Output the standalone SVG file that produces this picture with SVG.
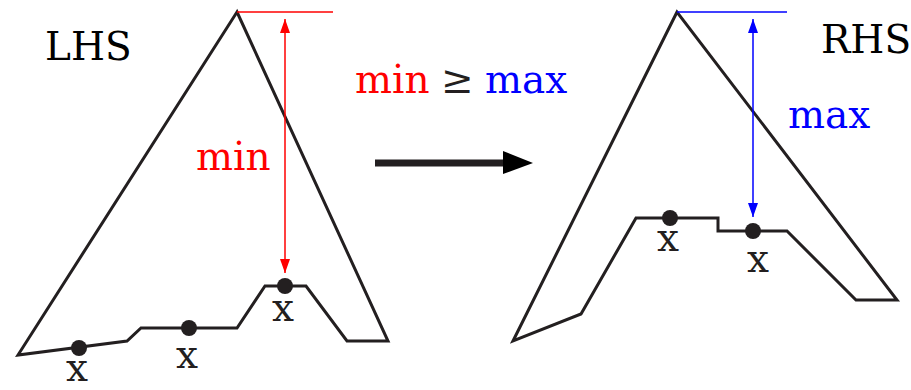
<svg xmlns="http://www.w3.org/2000/svg" width="911" height="390" viewBox="0 0 911 390">
<style>
.shape{fill:none;stroke:#231f20;stroke-width:3;stroke-linejoin:miter}
.dot{fill:#231f20}
text{font-family:"DejaVu Serif","Liberation Serif",serif;font-size:39px}
.lbl{fill:#231f20;text-anchor:middle}
.red{fill:#ff0000}
.blue{fill:#0000ff}
</style>
<defs>
<marker id="ar" markerWidth="14" markerHeight="10" refX="14" refY="5" orient="auto-start-reverse" markerUnits="userSpaceOnUse"><path d="M0,0 L14,5 L0,10 Z" fill="#ff0000"/></marker>
<marker id="ab" markerWidth="14" markerHeight="10" refX="14" refY="5" orient="auto-start-reverse" markerUnits="userSpaceOnUse"><path d="M0,0 L14,5 L0,10 Z" fill="#0000ff"/></marker>
</defs>
<g id="lhs">
<path class="shape" d="M237,12 L18,355 L127,341 L141,328 L237,328 L265,286 L306,286 L347,341 L388,341 Z"/>
<circle class="dot" cx="79" cy="348" r="8"/>
<circle class="dot" cx="189" cy="328" r="8"/>
<circle class="dot" cx="285" cy="286" r="8"/>
<text class="lbl" x="77" y="381">x</text>
<text class="lbl" x="187" y="368">x</text>
<text class="lbl" x="283" y="321">x</text>
<text x="45" y="60">LHS</text>
</g>
<g id="rhs">
<path class="shape" d="M677,12 L513,341 L581,314 L636,218 L718,218 L718,231 L787,231 L856,300 L897,300 Z"/>
<circle class="dot" cx="670" cy="218" r="8"/>
<circle class="dot" cx="753" cy="231" r="8"/>
<text class="lbl" x="668" y="251">x</text>
<text class="lbl" x="758" y="272">x</text>
<text x="821" y="53">RHS</text>
</g>
<g id="connectors">
<line x1="237" y1="12" x2="333" y2="12" stroke="#ff0000" stroke-width="1.5"/>
<line x1="285" y1="19" x2="285" y2="273" stroke="#ff0000" stroke-width="1.5" marker-start="url(#ar)" marker-end="url(#ar)"/>
<text class="red" x="196" y="170">min</text>
<line x1="677" y1="12" x2="787" y2="12" stroke="#0000ff" stroke-width="1.5"/>
<line x1="753" y1="19" x2="753" y2="217" stroke="#0000ff" stroke-width="1.5" marker-start="url(#ab)" marker-end="url(#ab)"/>
<text class="blue" x="788" y="128">max</text>
<line x1="375" y1="163" x2="505" y2="163" stroke="#231f20" stroke-width="7"/>
<path d="M503,151 L533,163 L503,174 Z" fill="#000"/>
</g>
<g id="rule">
<text x="355" y="93"><tspan class="red">min</tspan><tspan fill="#231f20" x="441">≥</tspan><tspan class="blue" x="485">max</tspan></text>
</g>
</svg>
